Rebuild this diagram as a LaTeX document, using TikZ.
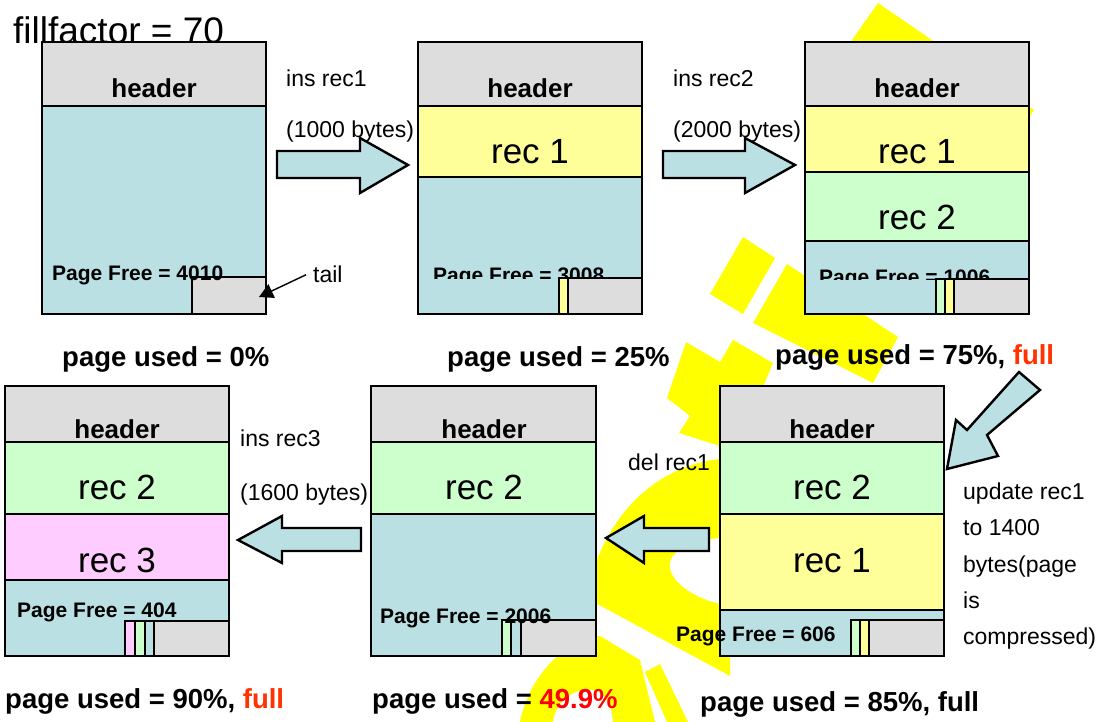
\documentclass[tikz,border=0pt]{standalone}
\usepackage{fontspec}
\setmainfont{Liberation Sans}
\usetikzlibrary{arrows.meta}
\definecolor{hdrgray}{HTML}{DDDDDD}
\definecolor{pageblue}{HTML}{BBE0E3}
\definecolor{recyellow}{HTML}{FFFF99}
\definecolor{recgreen}{HTML}{CCFFCC}
\definecolor{recpink}{HTML}{FFCCFF}
\definecolor{wmyellow}{HTML}{FFFF00}
\definecolor{fullred}{HTML}{FF3300}
\definecolor{pctred}{HTML}{FF0000}
\tikzset{
  box/.style={draw=black, line width=2.9pt, line join=miter},
  hdrtxt/.style={font=\bfseries\fontsize{26}{30}\selectfont, anchor=base, inner sep=0pt},
  rectxt/.style={font=\fontsize{35}{42}\selectfont, anchor=base, inner sep=0pt},
  freetxt/.style={font=\bfseries\fontsize{21}{25}\selectfont, anchor=base west, inner sep=0pt},
  usedtxt/.style={font=\bfseries\fontsize{27.5}{32}\selectfont, anchor=base west, inner sep=0pt},
  lbl/.style={font=\fontsize{23}{28}\selectfont, anchor=base west, inner sep=0pt},
  bigtxt/.style={font=\fontsize{37}{42}\selectfont, anchor=base west, inner sep=0pt},
  blockarrow/.style={draw=black, line width=2.4pt, fill=pageblue, line join=miter},
  wm/.style={fill=wmyellow, draw=none},
}
% one filled, outlined band of a page
\newcommand{\segm}[5]{\filldraw[box, fill=#5] (#1,#2) rectangle (#3,#4);}
\begin{document}
\begin{tikzpicture}[x=1pt,y=-1pt]
\useasboundingbox (0,0) rectangle (1106,722);
\fill[white] (0,0) rectangle (1106,722);

% yellow watermark in the background
\fill[wm] (878,3) -- (1034,110) -- (1000,160) -- (845,50) -- cycle;
\fill[wm] (743,237) -- (775,258) -- (743,314) -- (710,294) -- cycle;
\fill[wm] (787,264) -- (898,337) -- (873,383) -- (753,323) -- cycle;
\fill[wm] (686,342) -- (720,362) -- (733,340) -- (773,363) -- (745,430)
  -- (720,446) -- (679,433) -- (690,416) -- (667,398) -- cycle;
\fill[wm] (730,458) .. controls (660,462) and (610,510) .. (590,580)
  -- (590,600) -- (730,676) -- cycle;
\fill[white] (721,538) .. controls (690,540) and (668,552) .. (670,567)
  .. controls (672,585) and (700,600) .. (721,604) -- cycle;
\fill[wm] (520,722) .. controls (528,680) and (560,642) .. (600,636)
  -- (640,660) -- (655,722) -- cycle;
\fill[white] (553,722) .. controls (556,700) and (575,688) .. (592,690)
  .. controls (605,692) and (612,705) .. (613,722) -- cycle;
\fill[wm] (645,672) -- (660,664) -- (688,722) -- (667,722) -- cycle;

\node[bigtxt] (ff) at (13,44) {fillfactor = 70};

% ---- page 1: empty page
\segm{42}{42}{266}{106}{hdrgray}
\segm{42}{106}{266}{314}{pageblue}
\segm{192}{277}{266}{314}{hdrgray}
\node[freetxt] (pf1) at (52,280) {Page Free = 4010};
\draw[box] (42,42) rectangle (266,314);
\node[hdrtxt] (h1) at (154,98) {header};
\node[lbl] (tl) at (313,283) {tail};
\coordinate (tailtip) at (259,297);
\draw[line width=1.4pt, -{Triangle[length=14pt,width=15pt]}] ([xshift=-7pt]tl.west) -- (tailtip);

% ---- page 2: rec 1 inserted
\segm{418}{42}{642}{106}{hdrgray}
\segm{418}{106}{642}{177}{recyellow}
\segm{418}{177}{642}{314}{pageblue}
\begin{scope}
  \clip (418,0) rectangle (642,278);
  \node[freetxt] (pf2) at (433,282) {Page Free = 3008};
\end{scope}
\segm{559}{278}{568}{314}{recyellow}
\segm{568}{278}{642}{314}{hdrgray}
\draw[box] (418,42) rectangle (642,314);
\node[hdrtxt] (h2) at (530,98) {header};
\node[rectxt] (r21) at (530,164) {rec 1};

% ---- page 3: rec 1 and rec 2
\segm{805}{42}{1029}{106}{hdrgray}
\segm{805}{106}{1029}{172}{recyellow}
\segm{805}{172}{1029}{241}{recgreen}
\segm{805}{241}{1029}{314}{pageblue}
\begin{scope}
  \clip (805,0) rectangle (1029,279);
  \node[freetxt] (pf3) at (819,284) {Page Free = 1006};
\end{scope}
\segm{936}{279}{945}{314}{recgreen}
\segm{945}{279}{954}{314}{recyellow}
\segm{954}{279}{1029}{314}{hdrgray}
\draw[box] (805,42) rectangle (1029,314);
\node[hdrtxt] (h3) at (917,98) {header};
\node[rectxt] (r31) at (917,164) {rec 1};
\node[rectxt] (r32) at (917,230) {rec 2};

% ---- page 4: rec 1 grown, page compressed
\segm{720}{386}{944}{442}{hdrgray}
\segm{720}{442}{944}{514}{recgreen}
\segm{720}{514}{944}{610}{recyellow}
\segm{720}{610}{944}{656}{pageblue}
\segm{851}{620}{860}{656}{recgreen}
\segm{860}{620}{869}{656}{recyellow}
\segm{869}{620}{944}{656}{hdrgray}
\draw[box] (720,386) rectangle (944,656);
\node[freetxt] (pf4) at (676,641) {Page Free = 606};
\node[hdrtxt] (h4) at (832,438) {header};
\node[rectxt] (r42) at (832,499) {rec 2};
\node[rectxt] (r41) at (832,572) {rec 1};

% ---- page 5: rec 1 deleted
\segm{371}{386}{596}{442}{hdrgray}
\segm{371}{442}{596}{514}{recgreen}
\segm{371}{514}{596}{656}{pageblue}
\segm{502}{620}{511}{656}{recgreen}
\segm{511}{620}{521}{656}{pageblue}
\segm{521}{620}{596}{656}{hdrgray}
\node[freetxt] (pf5) at (380,623) {Page Free = 2006};
\draw[box] (371,386) rectangle (596,656);
\node[hdrtxt] (h5) at (484,438) {header};
\node[rectxt] (r52) at (484,499) {rec 2};

% ---- page 6: rec 3 inserted
\segm{5}{386}{229}{442}{hdrgray}
\segm{5}{442}{229}{514}{recgreen}
\segm{5}{514}{229}{580}{recpink}
\segm{5}{580}{229}{656}{pageblue}
\segm{125}{621}{135}{656}{recpink}
\segm{135}{621}{145}{656}{recgreen}
\segm{145}{621}{154}{656}{pageblue}
\segm{154}{621}{229}{656}{hdrgray}
\node[freetxt] (pf6) at (17,617) {Page Free = 404};
\draw[box] (5,386) rectangle (229,656);
\node[hdrtxt] (h6) at (117,438) {header};
\node[rectxt] (r62) at (117,499) {rec 2};
\node[rectxt] (r63) at (117,572) {rec 3};

% ---- block arrows between the pages
\filldraw[blockarrow] (277,151) -- (360,151) -- (360,138) -- (408,165)
  -- (360,193) -- (360,178) -- (277,178) -- cycle;
\filldraw[blockarrow] (663,151) -- (745,151) -- (745,138) -- (795,165)
  -- (745,193) -- (745,178) -- (663,178) -- cycle;
\filldraw[blockarrow] (1019,372) -- (1040,390) -- (987,435) -- (998,456)
  -- (947,469) -- (956,420) -- (967,430) -- cycle;
\filldraw[blockarrow] (709,528) -- (644,528) -- (644,516) -- (606,538)
  -- (644,563) -- (644,551) -- (709,551) -- cycle;
\filldraw[blockarrow] (361,528) -- (282,528) -- (282,516) -- (238,540)
  -- (282,563) -- (282,551) -- (361,551) -- cycle;

% ---- operation labels
\node[lbl] (op1a) at (286,87) {ins rec1};
\node[lbl] (op1b) at (286,138) {(1000 bytes)};
\node[lbl] (op2a) at (673,87) {ins rec2};
\node[lbl] (op2b) at (673,138) {(2000 bytes)};
\node[lbl] (op3) at (628,470) {del rec1};
\node[lbl] (op4a) at (240,446) {ins rec3};
\node[lbl] (op4b) at (240,500) {(1600 bytes)};
\node[lbl] (u1) at (963,499) {update rec1};
\node[lbl] (u2) at (963,535) {to 1400};
\node[lbl] (u3) at (963,572) {bytes(page};
\node[lbl] (u4) at (963,608) {is};
\node[lbl] (u5) at (963,644) {compressed)};

% ---- usage captions
\node[usedtxt] (c1) at (62,366) {page used = 0\%};
\node[usedtxt] (c2) at (447,366) {page used = 25\%};
\node[usedtxt] (c3) at (775,364) {page used = 75\%, \textcolor{fullred}{full}};
\node[usedtxt] (c6) at (5,708) {page used = 90\%, \textcolor{fullred}{full}};
\node[usedtxt] (c5) at (372,708) {page used = \textcolor{pctred}{49.9\%}};
\node[usedtxt] (c4) at (700,711) {page used = 85\%, full};
\end{tikzpicture}
\end{document}
